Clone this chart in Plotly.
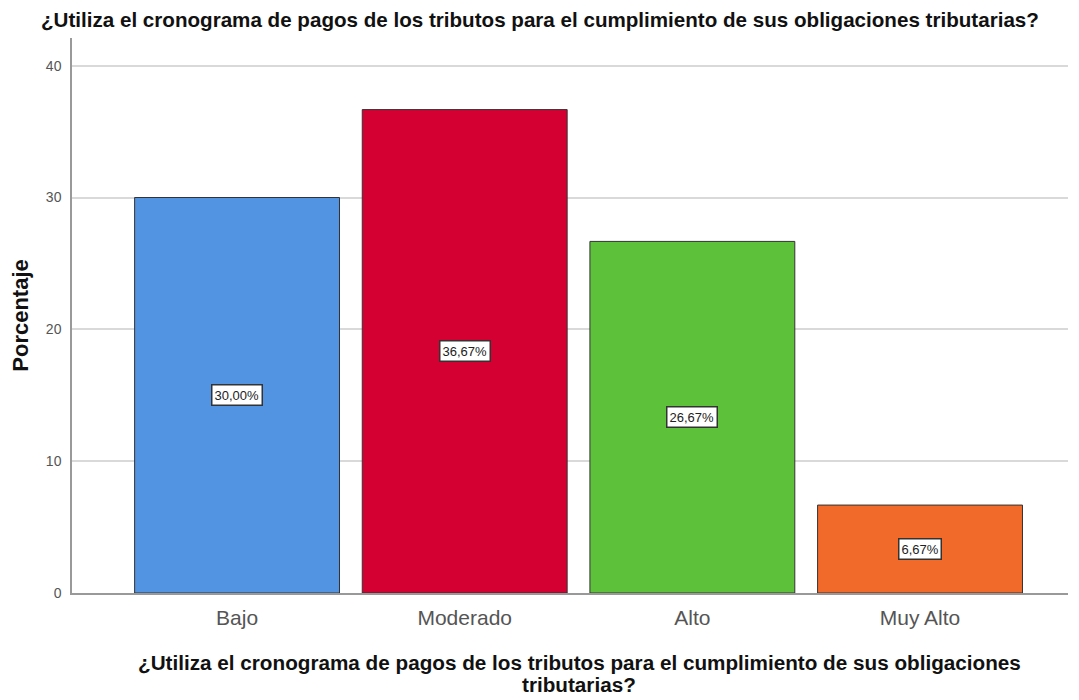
import plotly.graph_objects as go

categories = ["Bajo", "Moderado", "Alto", "Muy Alto"]
values = [30.00, 36.67, 26.67, 6.67]
labels = ["30,00%", "36,67%", "26,67%", "6,67%"]
colors = ["#5294E2", "#D50032", "#5EC13A", "#F26A2A"]
title = "¿Utiliza el cronograma de pagos de los tributos para el cumplimiento de sus obligaciones tributarias?"
xtitle_lines = ["¿Utiliza el cronograma de pagos de los tributos para el cumplimiento de sus obligaciones",
                "tributarias?"]

xpos = list(range(1, len(categories) + 1))

fig = go.Figure()
fig.add_trace(go.Bar(
    x=xpos, y=values, width=0.9,
    marker=dict(color=colors, line=dict(color="#333333", width=1)),
    hoverinfo="skip",
))

for xp, v, lab in zip(xpos, values, labels):
    fig.add_annotation(
        x=xp, y=v / 2, text=lab, showarrow=False,
        font=dict(family="Arial", size=13, color="#222222"),
        bgcolor="white", bordercolor="#333333", borderwidth=1.5, borderpad=2,
    )

# x-axis title (two tightly spaced lines)
for line_text, ypaper in zip(xtitle_lines, [-0.126, -0.164]):
    fig.add_annotation(
        xref="paper", yref="paper", x=0.5095, y=ypaper,
        xanchor="center", yanchor="middle", showarrow=False, text=line_text,
        font=dict(family="Arial", size=20.7, color="#111111", weight="bold"),
    )

fig.update_layout(
    width=1079, height=700,
    margin=dict(l=64, r=19, t=30, b=115),
    paper_bgcolor="white", plot_bgcolor="white",
    showlegend=False,
    title=dict(text=title, x=0.493, xanchor="center", y=0.983, yanchor="middle",
               font=dict(family="Arial", size=20.6, color="#111111", weight="bold")),
    font=dict(family="Arial"),
)
fig.update_xaxes(
    tickmode="array", tickvals=xpos, ticktext=categories,
    range=[0.275, 4.65], automargin=False,
    showline=True, linecolor="#999999", linewidth=1.5,
    showgrid=False, zeroline=False, ticks="", ticklabelstandoff=5,
    tickfont=dict(family="Arial", size=21, color="#555555"),
)
fig.update_yaxes(
    range=[0, 42.1], tickvals=[0, 10, 20, 30, 40], automargin=False,
    showline=True, linecolor="#999999", linewidth=1.5,
    showgrid=True, gridcolor="#D9D9D9", gridwidth=1.5, zeroline=False,
    ticks="", ticklabelstandoff=6, tickfont=dict(family="Arial", size=14, color="#555555"),
    title=dict(text="Porcentaje", font=dict(family="Arial", size=22, color="#111111", weight="bold"), standoff=12),
)

fig.write_html("out.html")
